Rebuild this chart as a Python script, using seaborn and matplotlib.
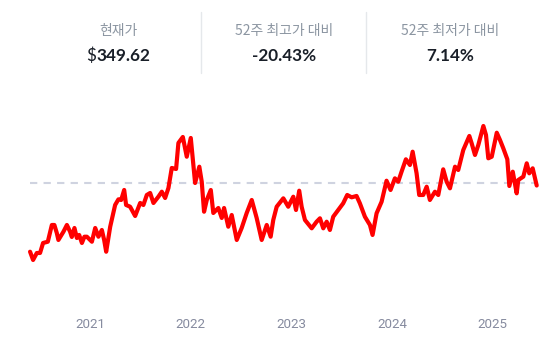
import numpy as np
import pandas as pd
import matplotlib
matplotlib.use("Agg")
import matplotlib.pyplot as plt
import seaborn as sns

# ---- data ----
header_labels = ["현재가", "52주 최고가 대비", "52주 최저가 대비"]
header_values = ["$349.62", "-20.43%", "7.14%"]

year_ticks = [2021, 2022, 2023, 2024, 2025]
reference_price = 353.4

frac_years = [
    2020.404, 2020.434, 2020.471, 2020.503, 2020.533, 2020.580, 2020.620, 2020.645, 2020.669, 2020.685,
    2020.735, 2020.769, 2020.801, 2020.818, 2020.844, 2020.868, 2020.891, 2020.918, 2020.943, 2020.967,
    2021.017, 2021.050, 2021.082, 2021.116, 2021.139, 2021.159, 2021.199, 2021.248, 2021.281, 2021.308,
    2021.338, 2021.357, 2021.397, 2021.447, 2021.497, 2021.529, 2021.563, 2021.596, 2021.629, 2021.678,
    2021.712, 2021.745, 2021.778, 2021.811, 2021.854, 2021.877, 2021.921, 2021.960, 2022.000, 2022.043,
    2022.085, 2022.109, 2022.132, 2022.159, 2022.199, 2022.224, 2022.274, 2022.308, 2022.331, 2022.373,
    2022.407, 2022.457, 2022.506, 2022.556, 2022.606, 2022.655, 2022.705, 2022.755, 2022.794, 2022.820,
    2022.854, 2022.920, 2022.969, 2023.019, 2023.046, 2023.078, 2023.102, 2023.135, 2023.202, 2023.251,
    2023.284, 2023.317, 2023.351, 2023.383, 2023.416, 2023.466, 2023.515, 2023.555, 2023.599, 2023.648,
    2023.681, 2023.731, 2023.781, 2023.807, 2023.847, 2023.897, 2023.946, 2023.986, 2024.029, 2024.062,
    2024.095, 2024.138, 2024.178, 2024.205, 2024.244, 2024.270, 2024.310, 2024.344, 2024.376, 2024.426,
    2024.459, 2024.508, 2024.542, 2024.575, 2024.625, 2024.657, 2024.707, 2024.767, 2024.790, 2024.823,
    2024.856, 2024.906, 2024.932, 2024.955, 2024.989, 2025.039, 2025.071, 2025.104, 2025.144, 2025.164,
    2025.198, 2025.237, 2025.253, 2025.303, 2025.337, 2025.362, 2025.396, 2025.436,
]

prices = [
    250.3, 237.9, 248.4, 248.4, 263.4, 265.3, 290.4, 290.4, 278.4, 267.9,
    280.3, 290.4, 280.3, 272.4, 285.9, 270.9, 275.4, 263.4, 272.8, 272.8,
    265.3, 285.9, 272.8, 282.9, 267.9, 250.3, 287.8, 320.4, 328.9, 327.9,
    342.9, 320.4, 317.8, 303.9, 323.4, 320.4, 335.4, 338.4, 323.4, 332.8,
    340.3, 330.9, 345.9, 375.9, 374.4, 413.4, 422.4, 392.8, 420.9, 353.4,
    377.8, 355.3, 310.3, 327.9, 342.9, 308.4, 315.9, 300.9, 315.9, 287.8,
    305.4, 267.9, 285.9, 308.4, 327.9, 300.9, 267.9, 290.4, 272.8, 297.9,
    317.8, 330.4, 317.8, 332.8, 312.9, 341.8, 317.8, 297.9, 285.4, 295.3,
    300.4, 285.4, 295.3, 282.9, 302.8, 312.9, 322.9, 335.4, 331.9, 333.9,
    322.9, 302.8, 290.4, 275.4, 307.9, 325.3, 356.8, 342.9, 360.4, 355.3,
    370.3, 388.9, 380.4, 400.3, 367.9, 335.4, 335.4, 347.8, 327.9, 340.3,
    335.4, 373.9, 355.3, 345.4, 377.8, 372.9, 402.9, 423.9, 412.9, 395.4,
    410.4, 438.9, 425.4, 390.4, 392.8, 428.8, 417.9, 405.4, 388.9, 348.9,
    370.3, 337.9, 357.9, 362.9, 382.9, 367.9, 375.4, 349.6,
]


def to_date(fy):
    y = int(fy)
    start = pd.Timestamp(year=y, month=1, day=1)
    days = (pd.Timestamp(year=y + 1, month=1, day=1) - start).days
    return start + pd.Timedelta(days=(fy - y) * days)


df = pd.DataFrame({"date": [to_date(v) for v in frac_years], "price": prices})

# ---- figure ----
sns.set_theme(style="white")
W, H = 553, 351
fig = plt.figure(figsize=(W / 100, H / 100), dpi=100)
fig.patch.set_facecolor("white")

# axes covering pixel rows 100..300, full width
ax = fig.add_axes([0, (H - 300) / H, 1, 200 / H])
ax.set_facecolor("white")

sns.lineplot(data=df, x="date", y="price", ax=ax, color="#ff0000",
             linewidth=3.0, solid_joinstyle="round", solid_capstyle="round", zorder=3)

ax.plot([df["date"].iloc[0], df["date"].iloc[-1]], [reference_price, reference_price],
        color="#cfd3e0", linewidth=1.5, dashes=(3.5, 3.0), zorder=2)

ax.set_xlim(to_date(2020.106), to_date(2025.598))
ax.set_ylim(177.87, 477.87)

ax.set_xticks([pd.Timestamp(year=y, month=1, day=1) for y in year_ticks])
ax.set_xticklabels([str(y) for y in year_ticks], color="#868b9f", fontsize=9.6,
                   fontfamily="Roboto")
ax.tick_params(axis="x", length=0, pad=13)
ax.set_yticks([])
ax.set_xlabel("")
ax.set_ylabel("")
for s in ax.spines.values():
    s.set_visible(False)

# ---- header ----
centers = [118, 284, 450]
for i, (cx, lab, val) in enumerate(zip(centers, header_labels, header_values)):
    fig.text(cx / W, 1 - 31.5 / H, lab, ha="center", va="center", fontsize=10,
             color="#8b95a1", family=["Noto Sans CJK KR", "DejaVu Sans"])
    if val.startswith("$"):
        split = 96.5
        fig.text(split / W, 1 - 56 / H, "$", ha="right", va="center", fontsize=12.3,
                 color="#191f28", family=["Lato", "DejaVu Sans"])
        fig.text(split / W, 1 - 56 / H, val[1:], ha="left", va="center", fontsize=12.3,
                 fontweight="bold", color="#191f28", family=["Lato", "DejaVu Sans"])
    else:
        fig.text(cx / W, 1 - 56 / H, val, ha="center", va="center", fontsize=12.3,
                 fontweight="bold", color="#191f28", family=["Lato", "DejaVu Sans"])

for sx in [200.5, 366]:
    fig.add_artist(plt.Line2D([sx / W, sx / W], [1 - 12 / H, 1 - 73 / H],
                              color="#e5e8eb", linewidth=1.0))

fig.savefig("out.png", dpi=100, facecolor="white")
